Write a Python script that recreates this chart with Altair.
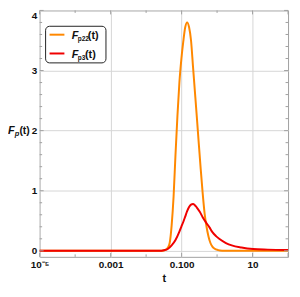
import altair as alt
import pandas as pd

# ---- data (x given as log10 t) ----
orange_logt = [-5.0, -2.0, -1.555, -1.445, -1.39, -1.336, -1.281, -1.226, -1.172, -1.117,
               -1.062, -1.008, -0.953, -0.898, -0.844, -0.789, -0.734, -0.679, -0.625, -0.570,
               -0.515, -0.461, -0.406, -0.351, -0.297, -0.242, -0.187, -0.132, -0.078, 0.031,
               0.141, 0.5, 2.0]
orange_vals = [0, 0, 0, 0.02, 0.05, 0.13, 0.42, 0.9, 1.6, 2.25,
               2.8, 3.18, 3.48, 3.72, 3.8, 3.72, 3.5, 3.07, 2.65, 2.22,
               1.78, 1.36, 0.96, 0.62, 0.4, 0.24, 0.13, 0.07, 0.04, 0.012,
               0.003, 0, 0]

red_logt = [-5.0, -1.609, -1.5, -1.39, -1.281, -1.172, -1.062, -1.008, -0.953, -0.898,
            -0.844, -0.789, -0.734, -0.679, -0.625, -0.570, -0.488, -0.406, -0.297, -0.215,
            -0.132, -0.023, 0.059, 0.250, 0.414, 0.688, 1.016, 1.426, 2.0]
red_vals = [0, 0, 0.01, 0.03, 0.09, 0.18, 0.32, 0.40, 0.48, 0.57,
            0.66, 0.73, 0.77, 0.78, 0.76, 0.72, 0.65, 0.56, 0.46, 0.39,
            0.31, 0.24, 0.20, 0.13, 0.09, 0.055, 0.03, 0.02, 0.012]

series_names = ["Fp22", "Fp3"]
series_colors = ["#ff8800", "#f00000"]
legend_subs = ["p22", "p3"]

x_major = [1e-5, 1e-3, 0.1, 10, 100]
x_minor = [1e-4, 1e-2, 1]
x_labels = ["10⁻⁵", "0.001", "0.100", "10"]
y_major = [0, 1, 2, 3, 4]
y_minor = [0.2, 0.4, 0.6, 0.8, 1.2, 1.4, 1.6, 1.8, 2.2, 2.4, 2.6, 2.8,
           3.2, 3.4, 3.6, 3.8]

W, H = 251, 249
FONT = "Liberation Sans"
FRAME = "#a0a0a0"
GRID = "#d6d6d6"

rows = []
for lt, v in zip(orange_logt, orange_vals):
    rows.append({"t": 10 ** lt, "val": v, "s": series_names[0]})
for lt, v in zip(red_logt, red_vals):
    rows.append({"t": 10 ** lt, "val": v, "s": series_names[1]})
df = pd.DataFrame(rows)

xscale = alt.Scale(type="log", domain=[1e-5, 100], nice=False)
yscale = alt.Scale(domain=[-0.1, 4], nice=False, zero=False)

label_expr = ("datum.value < 0.0001 ? '%s' : datum.value < 0.01 ? '%s' : "
              "datum.value < 1 ? '%s' : '%s'") % tuple(x_labels)

curves = alt.Chart(df).mark_line(strokeWidth=2, interpolate="monotone").encode(
    x=alt.X("t:Q", scale=xscale, axis=alt.Axis(
        values=x_major[:4], labelExpr=label_expr, title="t", grid=True,
        gridColor=GRID, ticks=False, domain=False, labelFlush=False,
        labelFont=FONT, labelFontSize=10, labelFontWeight="bold", labelColor="#111",
        labelPadding=3, titleFont=FONT, titleFontSize=11, titleFontWeight="bold",
        titleColor="#111", titlePadding=3)),
    y=alt.Y("val:Q", scale=yscale, axis=alt.Axis(
        values=y_major, format="d", title=None, grid=True, gridColor=GRID, ticks=False,
        domain=False, labelFlush=True, labelFont=FONT, labelFontSize=10,
        labelFontWeight="bold", labelColor="#111", labelPadding=3)),
    color=alt.Color("s:N", scale=alt.Scale(domain=series_names, range=series_colors),
                    legend=None),
    order=alt.Order("s:N"),
)

# frame ticks (pointing inward)
ymaj_df = pd.DataFrame({"val": y_major})
ymin_df = pd.DataFrame({"val": y_minor})
xmaj_df = pd.DataFrame({"t": x_major})
xmin_df = pd.DataFrame({"t": x_minor})

def yticks(d, L):
    left = alt.Chart(d).mark_rule(color=FRAME, strokeWidth=1).encode(
        y="val:Q", x=alt.value(0), x2=alt.value(L))
    right = alt.Chart(d).mark_rule(color=FRAME, strokeWidth=1).encode(
        y="val:Q", x=alt.value(W - L), x2=alt.value(W))
    return left + right

def xticks(d, L):
    bot = alt.Chart(d).mark_rule(color=FRAME, strokeWidth=1).encode(
        x="t:Q", y=alt.value(H - L), y2=alt.value(H))
    top = alt.Chart(d).mark_rule(color=FRAME, strokeWidth=1).encode(
        x="t:Q", y=alt.value(0), y2=alt.value(L))
    return bot + top

ticks = yticks(ymaj_df, 4) + yticks(ymin_df, 2.5) + xticks(xmaj_df, 4) + xticks(xmin_df, 2.5)

one = pd.DataFrame({"a": [0]})

# y-axis title  F_p(t)
ytitle = (
    alt.Chart(one).mark_text(font=FONT, fontSize=11, fontWeight="bold", fontStyle="italic",
                             align="left", baseline="alphabetic", color="#111").encode(
        x=alt.value(-32), y=alt.value(125), text=alt.value("F"))
    + alt.Chart(one).mark_text(font=FONT, fontSize=7.5, fontWeight="bold", fontStyle="italic",
                               align="left", baseline="alphabetic", color="#111").encode(
        x=alt.value(-25.3), y=alt.value(127), text=alt.value("p"))
    + alt.Chart(one).mark_text(font=FONT, fontSize=10.5, fontWeight="bold",
                               align="left", baseline="alphabetic", color="#111").encode(
        x=alt.value(-20.5), y=alt.value(125), text=alt.value("(t)"))
)

# legend box
box = alt.Chart(one).mark_rect(fill="white", stroke="#222", strokeWidth=1,
                                cornerRadius=4).encode(
    x=alt.value(6), x2=alt.value(67), y=alt.value(16), y2=alt.value(53))

leg_layers = [box]
line_y = [24.5, 43.5]
base_y = [29, 48.5]
paren_x = [48.7, 45.7]
for i in range(2):
    leg_layers.append(alt.Chart(one).mark_rule(color=series_colors[i], strokeWidth=2).encode(
        x=alt.value(10), x2=alt.value(25), y=alt.value(line_y[i])))
    leg_layers.append(alt.Chart(one).mark_text(font=FONT, fontSize=11, fontWeight="bold",
                                               fontStyle="italic", align="left",
                                               baseline="alphabetic", color="#111").encode(
        x=alt.value(32.5), y=alt.value(base_y[i]), text=alt.value("F")))
    leg_layers.append(alt.Chart(one).mark_text(font=FONT, fontSize=6.5, fontWeight="bold",
                                               align="left", baseline="alphabetic",
                                               color="#111").encode(
        x=alt.value(38.5), y=alt.value(base_y[i] + 2), text=alt.value(legend_subs[i])))
    leg_layers.append(alt.Chart(one).mark_text(font=FONT, fontSize=11, fontWeight="bold",
                                               align="left", baseline="alphabetic",
                                               color="#111").encode(
        x=alt.value(paren_x[i]), y=alt.value(base_y[i]), text=alt.value("(t)")))

legend = alt.layer(*leg_layers)

chart = alt.layer(curves, ticks, ytitle, legend).properties(
    width=W, height=H,
    padding={"left": 0, "top": 0, "right": 0, "bottom": 0},
    background="white",
).configure_view(stroke=FRAME, strokeWidth=1)

chart.save("out.html", embed_options={"renderer": "svg", "actions": False})
